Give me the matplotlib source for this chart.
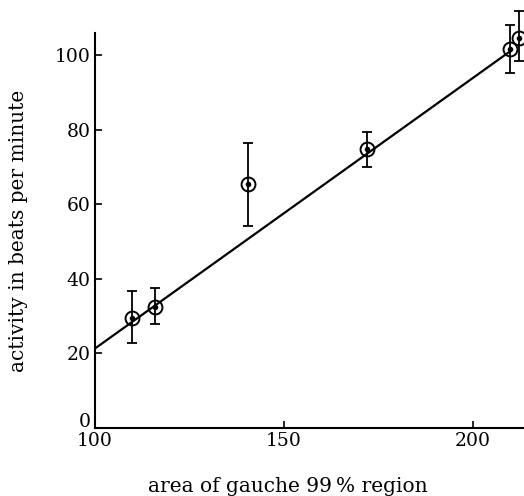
import matplotlib
matplotlib.use("Agg")
import matplotlib.pyplot as plt
import matplotlib.transforms as mtransforms
import numpy as np

# data
area = [109.7, 115.9, 140.4, 171.9, 209.8, 212.2]
activity = [29.6, 32.5, 65.4, 74.8, 101.6, 104.7]
err_low = [22.7, 27.8, 54.2, 69.9, 95.2, 98.5]
err_high = [36.8, 37.6, 76.5, 79.4, 108.1, 111.8]
fit_x = [100.0, 209.8]
fit_y = [21.3, 101.0]
xticks = [100, 150, 200]
yticks = [0, 20, 40, 60, 80, 100]

plt.rcParams['font.family'] = ['DejaVu Serif']
plt.rcParams['mathtext.fontset'] = 'dejavuserif'

fig = plt.figure(figsize=(5.24, 4.96), dpi=100)
ax = fig.add_axes([0.181, 0.137, 0.819, 0.797])

act = np.array(activity)
yerr = np.vstack([act - np.array(err_low), np.array(err_high) - act])

ax.plot(fit_x, fit_y, color='black', lw=1.6, zorder=2)
eb = ax.errorbar(area, activity, yerr=yerr, fmt='none', ecolor='black',
                 elinewidth=1.3, capsize=3.5, capthick=1.3, zorder=3)
for artist in eb.get_children():
    artist.set_clip_on(False)
ax.plot(area, activity, 'o', ms=10, mfc='none', mec='black', mew=1.4,
        zorder=4, clip_on=False)
ax.plot(area, activity, 'o', ms=3, color='black', zorder=5, clip_on=False)

ax.set_xlim(100, 213.5)
ax.set_ylim(0, 106)
ax.set_xticks(xticks)
ax.set_yticks(yticks)
ax.tick_params(direction='in', length=5, width=1.2, labelsize=13.5, pad=3)
ax.spines['top'].set_visible(False)
ax.spines['right'].set_visible(False)
ax.spines['left'].set_linewidth(1.5)
ax.spines['bottom'].set_linewidth(1.5)

# lift the "0" y tick label slightly above the x axis, as in the reference
zero_lbl = ax.get_yticklabels()[0]
zero_lbl.set_transform(zero_lbl.get_transform() +
                       mtransforms.ScaledTranslation(0, 4 / 72, fig.dpi_scale_trans))
zero_lbl.set_verticalalignment('center')

ax.set_xlabel('area of gauche 99\u2009% region', fontsize=14.5)
ax.xaxis.set_label_coords(0.45, -0.125)
ax.set_ylabel('activity in beats per minute', fontsize=14.5)
ax.yaxis.set_label_coords(-0.155, 0.5)

fig.savefig('out.png', dpi=100)
